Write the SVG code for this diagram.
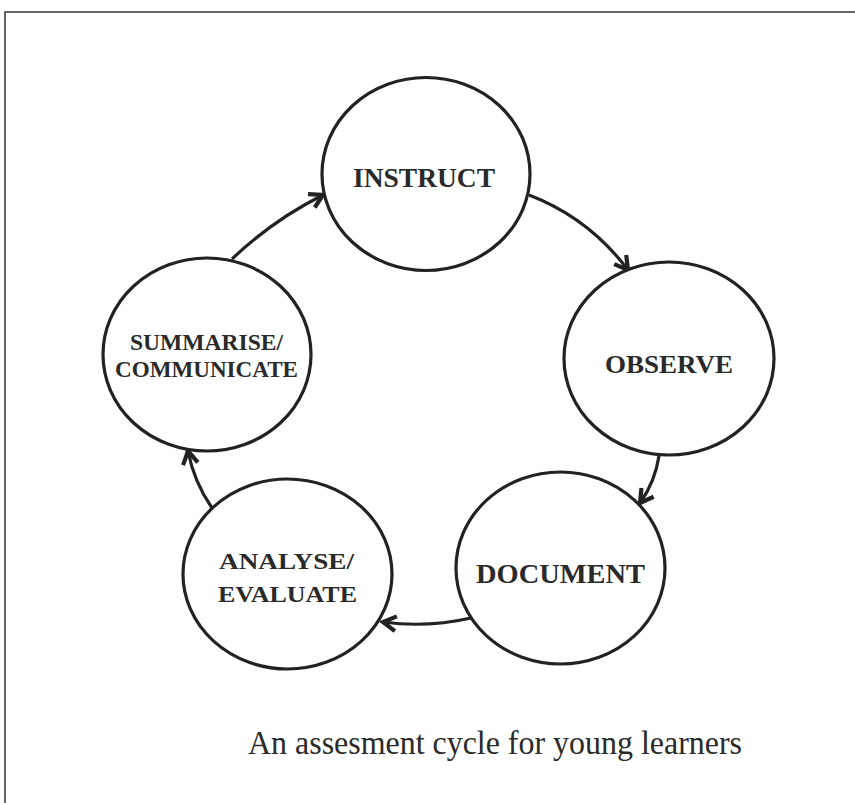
<svg xmlns="http://www.w3.org/2000/svg" width="855" height="803" viewBox="0 0 855 803">
  <defs>
    <style>
      .frame { fill: none; stroke: #333; stroke-width: 1.5; }
      .node ellipse { fill: #fff; stroke: #222; stroke-width: 3.2; }
      .label { font-family: "Liberation Serif", "Times New Roman", serif; font-weight: bold; fill: #2a2a2a; text-anchor: middle; }
      .edge { fill: none; stroke: #222; stroke-width: 3.2; marker-end: url(#arrow); }
      .caption { font-family: "Liberation Serif", "Times New Roman", serif; font-size: 33px; fill: #2a2a2a; }
    </style>
    <marker id="arrow" markerUnits="userSpaceOnUse" markerWidth="22" markerHeight="22" refX="15" refY="9" orient="auto" viewBox="0 0 22 18">
      <path d="M2,1.5 L15,9 L2,16.5" fill="none" stroke="#222" stroke-width="4.2"/>
    </marker>
  </defs>

  <rect width="855" height="803" fill="#fff"/>
  <!-- page frame: top and left edges -->
  <path class="frame" d="M5,803 L5,12 L855,12"/>

  <!-- cycle connectors -->
  <g id="connectors">
    <path class="edge" d="M529,195 Q589,218 628,270"/>
    <path class="edge" d="M659,456 Q655,482 640,503"/>
    <path class="edge" d="M471,618 Q427,628 383,622"/>
    <path class="edge" d="M212,508 Q194,482 188,451"/>
    <path class="edge" d="M232,259 Q273,220 323,195"/>
  </g>

  <g id="instruct" class="node">
    <ellipse cx="426" cy="174" rx="104" ry="96.5"/>
    <text class="label" x="424" y="187" font-size="27" textLength="142" lengthAdjust="spacingAndGlyphs">INSTRUCT</text>
  </g>

  <g id="observe" class="node">
    <ellipse cx="669" cy="358.5" rx="105" ry="96.5"/>
    <text class="label" x="669" y="373" font-size="26" textLength="128" lengthAdjust="spacingAndGlyphs">OBSERVE</text>
  </g>

  <g id="document" class="node">
    <ellipse cx="560.5" cy="568" rx="104.5" ry="96"/>
    <text class="label" x="560.5" y="583" font-size="27" textLength="169" lengthAdjust="spacingAndGlyphs">DOCUMENT</text>
  </g>

  <g id="analyse" class="node">
    <ellipse cx="287.5" cy="574" rx="104.5" ry="95"/>
    <text class="label" x="286.5" y="569" font-size="24" textLength="135" lengthAdjust="spacingAndGlyphs">ANALYSE/</text>
    <text class="label" x="287.5" y="602" font-size="24" textLength="139" lengthAdjust="spacingAndGlyphs">EVALUATE</text>
  </g>

  <g id="summarise" class="node">
    <ellipse cx="207" cy="354.5" rx="104" ry="96.5"/>
    <text class="label" x="206.5" y="350" font-size="22.5" textLength="153" lengthAdjust="spacingAndGlyphs">SUMMARISE/</text>
    <text class="label" x="206.5" y="377" font-size="22.5" textLength="183" lengthAdjust="spacingAndGlyphs">COMMUNICATE</text>
  </g>

  <text class="caption" x="248" y="754" textLength="494" lengthAdjust="spacingAndGlyphs">An assesment cycle for young learners</text>
</svg>
